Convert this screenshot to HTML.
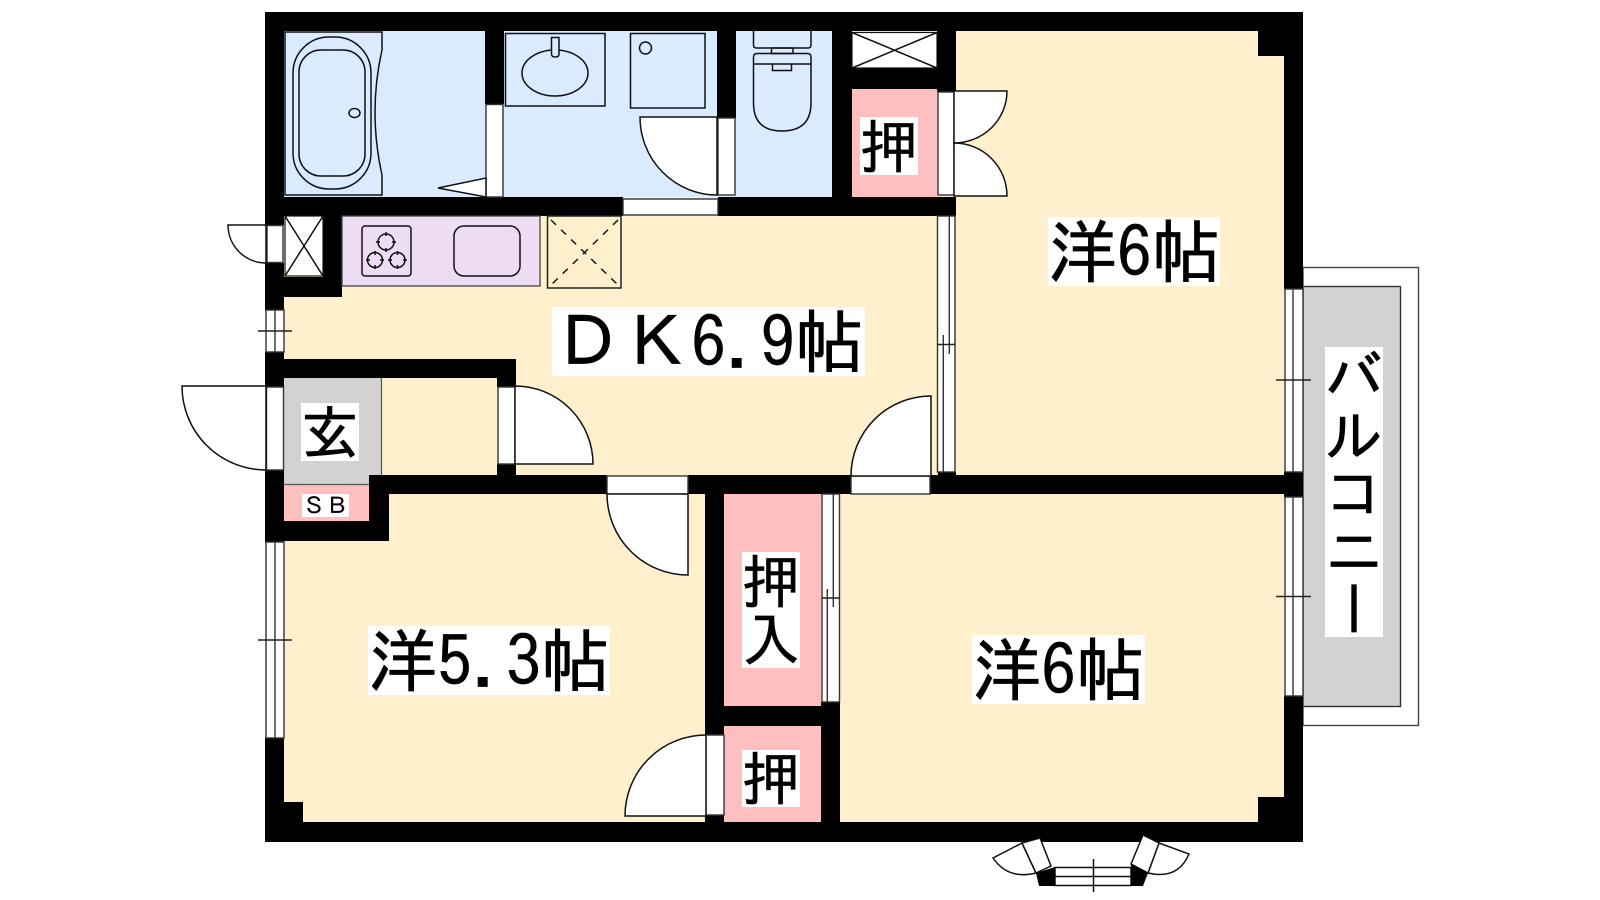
<!DOCTYPE html>
<html lang="ja">
<head>
<meta charset="utf-8">
<title>間取り図</title>
<style>
html,body{margin:0;padding:0;background:#fff;width:1600px;height:900px;overflow:hidden}
#p{position:relative;width:1600px;height:900px}
svg{position:absolute;left:0;top:0}
.t{position:absolute;background:#fff;color:#000;font-family:"IPAGothic","Liberation Sans","Noto Sans CJK JP",sans-serif;text-align:center;white-space:nowrap;overflow:hidden;-webkit-text-stroke:.7px #000}
</style>
</head>
<body>
<div id="p">
<svg width="1600" height="900" viewBox="0 0 1600 900" xmlns="http://www.w3.org/2000/svg">
<!-- floors -->
<rect x="284" y="31" width="1000" height="791" fill="#fef0cd"/>
<rect x="284" y="31" width="548" height="166" fill="#daebff"/>
<rect x="852" y="89" width="85" height="108" fill="#ffbfbf"/>
<rect x="284" y="378" width="98" height="106" fill="#d2d2d2"/>
<rect x="284" y="485" width="85" height="36" fill="#ffbfbf"/>
<rect x="724" y="494" width="97" height="212" fill="#ffbfbf"/>
<rect x="724" y="726" width="97" height="96" fill="#ffbfbf"/>
<line x1="381.5" y1="378" x2="381.5" y2="476" stroke="#555" stroke-width="1.2"/>
<line x1="284" y1="484.5" x2="370" y2="484.5" stroke="#555" stroke-width="1.2"/>

<!-- balcony -->
<rect x="1303" y="267.5" width="115.5" height="458" fill="#fff" stroke="#444" stroke-width="1.4"/>
<rect x="1303" y="286.5" width="97.5" height="420" fill="#d2d2d2" stroke="#333" stroke-width="1.4"/>

<!-- walls -->
<g fill="#000">
<rect x="265" y="12" width="1038" height="19"/>
<rect x="265" y="822" width="1038" height="20"/>
<rect x="265" y="12" width="19" height="213"/>
<rect x="265" y="263" width="19" height="47"/>
<rect x="265" y="352" width="19" height="35"/>
<rect x="265" y="470" width="19" height="72"/>
<rect x="265" y="738" width="19" height="104"/>
<rect x="284" y="802" width="19" height="20"/>
<rect x="1284" y="12" width="19" height="277"/>
<rect x="1258" y="31" width="26" height="25"/>
<rect x="1284" y="472" width="19" height="25"/>
<rect x="1284" y="696" width="19" height="146"/>
<rect x="1258" y="797" width="26" height="25"/>
<rect x="485" y="31" width="19" height="73"/>
<rect x="717" y="31" width="19" height="87"/>
<rect x="832" y="31" width="20" height="166"/>
<rect x="852" y="68" width="85" height="21"/>
<rect x="937" y="31" width="19" height="61"/>
<rect x="265" y="197" width="358" height="19"/>
<rect x="718" y="197" width="238" height="19"/>
<rect x="323" y="216" width="19" height="81"/>
<rect x="265" y="277" width="77" height="20"/>
<rect x="284" y="359" width="232" height="19"/>
<rect x="497" y="378" width="19" height="9"/>
<rect x="497" y="464" width="19" height="11"/>
<rect x="369" y="475" width="238" height="19"/>
<rect x="369" y="475" width="20" height="66"/>
<rect x="265" y="521" width="124" height="20"/>
<rect x="688" y="475" width="163" height="19"/>
<rect x="930" y="475" width="354" height="19"/>
<rect x="938" y="472" width="18" height="4"/>
<rect x="705" y="494" width="19" height="241"/>
<rect x="705" y="815" width="19" height="7"/>
<rect x="705" y="706" width="135" height="20"/>
<rect x="821" y="702" width="19" height="120"/>
</g>

<!-- windows and door pockets -->
<g fill="#fff" stroke="#333" stroke-width="1.4">
<rect x="486" y="104.500" width="17" height="92.500"/>
<rect x="718" y="118" width="17" height="77"/>
<rect x="623" y="199" width="95" height="16"/>
<rect x="938" y="92" width="16" height="103"/>
<rect x="267" y="225.500" width="16" height="37"/>
<rect x="266.500" y="387" width="17" height="83"/>
<rect x="498" y="387" width="17" height="77"/>
<rect x="607" y="476" width="81" height="18"/>
<rect x="851" y="476" width="79" height="18"/>
<rect x="706" y="735" width="18" height="80"/>
<!-- windows -->
<rect x="266" y="310" width="18" height="42"/>
<line x1="275" y1="310" x2="275" y2="352"/>
<rect x="266" y="542" width="18" height="196"/>
<line x1="275" y1="542" x2="275" y2="738"/>
<rect x="937.500" y="216" width="17.500" height="256"/>
<line x1="949.300" y1="216" x2="949.300" y2="354"/>
<line x1="943.300" y1="335" x2="943.300" y2="472"/>
<rect x="822" y="494" width="17.500" height="208"/>
<line x1="833.300" y1="494" x2="833.300" y2="607"/>
<line x1="827.300" y1="589" x2="827.300" y2="702"/>
<rect x="1285" y="289" width="18" height="183"/>
<line x1="1293" y1="289" x2="1293" y2="472"/>
<rect x="1285" y="497" width="18" height="199"/>
<line x1="1293" y1="497" x2="1293" y2="696"/>
</g>
<g stroke="#222" stroke-width="1.4" fill="none">
<line x1="258" y1="331" x2="292" y2="331"/>
<line x1="258" y1="640" x2="292" y2="640"/>
<line x1="1276" y1="380" x2="1311" y2="380"/>
<line x1="1276" y1="596.500" x2="1311" y2="596.500"/>
<line x1="937.500" y1="344.500" x2="955" y2="344.500"/>
<line x1="822" y1="598" x2="839.500" y2="598"/>
</g>

<!-- door leaves -->
<g fill="#fff" stroke="#111" stroke-width="1.5">
<path d="M717 117 H640 A77 78 0 0 0 717 195 Z"/>
<path d="M954 91 H1007 A53 52 0 0 1 954 143 Z"/>
<path d="M954 196 H1007 A53 53 0 0 0 954 143 Z"/>
<path d="M266 225 H228 A38 38 0 0 0 266 263 Z"/>
<path d="M266 386 H182 A84 84 0 0 0 266 470 Z"/>
<path d="M515 386 A78 78 0 0 1 593 464 H515 Z"/>
<path d="M688 494 H607 A81 81 0 0 0 688 575 Z"/>
<path d="M931 476 H851 A80 80 0 0 1 931 396 Z"/>
<path d="M706 816 H625 A81 81 0 0 1 706 735 Z"/>
<path d="M486 197 V178 L438 188 Z"/>
</g>

<!-- bathtub -->
<g fill="none" stroke="#111" stroke-width="1.5">
<path d="M285 32 H382 V50 Q368 112 382 175 V195 H285 Z" fill="#daebff"/>
<rect x="293" y="37" width="78" height="152" rx="36" ry="36"/>
<rect x="299" y="50" width="66" height="126" rx="22" ry="22"/>
<ellipse cx="354.500" cy="113" rx="5.500" ry="4.500"/>
<!-- wash basin -->
<rect x="505.500" y="33.500" width="99.500" height="72.500"/>
<rect x="522" y="50" width="66" height="46" rx="33" ry="23"/>
<path d="M551.500 37.500 H559 V54 Q559 57 555.500 57 Q551.500 57 551.500 54 Z" fill="#daebff"/>
<!-- washer -->
<rect x="630.500" y="33.500" width="74.500" height="74.500"/>
<circle cx="645.500" cy="48" r="6"/>
<!-- toilet -->
<path d="M753.500 31 V45 Q753.500 48 756.500 48 H808 Q811 48 811 45 V31"/>
<rect x="771.500" y="48" width="21.500" height="5.500"/>
<path d="M753.500 57 Q753.500 53.500 757 53.500 H807.500 Q811 53.500 811 57 V103 Q811 131 782 131 Q753.500 131 753.500 103 Z"/>
<line x1="753.500" y1="64" x2="811" y2="64"/>
<path d="M772.500 64 V70.500 H791.500 V64"/>
</g>

<!-- white closets with X -->
<g fill="#fff" stroke="#111" stroke-width="1.2">
<rect x="285" y="216" width="38" height="60"/>
<rect x="852" y="32.500" width="85" height="35.500"/>
</g>
<g stroke="#111" stroke-width="1.5">
<line x1="285" y1="216" x2="323" y2="276"/>
<line x1="323" y1="216" x2="285" y2="276"/>
<line x1="852" y1="32.500" x2="937" y2="68"/>
<line x1="937" y1="32.500" x2="852" y2="68"/>
</g>

<!-- kitchen -->
<rect x="342" y="216" width="198" height="70" fill="#eedcf5" stroke="#444" stroke-width="1.3"/>
<g fill="none" stroke="#111" stroke-width="1.5">
<rect x="362" y="226" width="49" height="50" rx="3"/>
<circle cx="386" cy="242" r="8"/>
<circle cx="375" cy="260" r="7.500"/>
<circle cx="397.500" cy="260" r="7.500"/>
<path d="M386 232 V236 M386 248 V252 M376 242 H380 M392 242 H396 M375 251 V255 M375 265 V269 M366 260 H370 M380 260 H384 M397.500 251 V255 M397.500 265 V269 M388 260 H392 M403 260 H407"/>
<rect x="454" y="226" width="66" height="50" rx="10"/>
</g>
<!-- fridge -->
<rect x="547.500" y="216" width="73.500" height="72" fill="#fef0cd" stroke="#222" stroke-width="1.5"/>
<g stroke="#111" stroke-width="1.5" stroke-dasharray="7 7">
<line x1="551" y1="220" x2="618" y2="285"/>
<line x1="618" y1="220" x2="551" y2="285"/>
</g>

<!-- bay window -->
<g fill="#fff" stroke="#111" stroke-width="1.5">
<path d="M1022 843 L993 858 Q1008 880 1036 873 Z"/>
<path d="M1159 843 L1189 854 Q1178 880 1148 873 Z"/>
<path d="M1022 843 L1040 838 L1051 866 L1036 873 Z"/>
<path d="M1143 835 L1159 843 L1148 873 L1131 864 Z"/>
<rect x="1055" y="867.500" width="76" height="18"/>
<line x1="1055" y1="876.500" x2="1131" y2="876.500"/>
<line x1="1093.500" y1="859" x2="1093.500" y2="892"/>
</g>
<g fill="#000">
<path d="M1036 873 L1055 867 V886 H1039 Z"/>
<path d="M1131 864 L1148 873 L1143 886 H1131 Z"/>
</g>
</svg>

<div class="t" style="left:1048px;top:217px;width:172px;height:69px;line-height:69px;font-size:69px">洋6帖</div>
<div class="t" style="left:552px;top:307px;width:313px;height:69px;line-height:69px;font-size:69px">ＤＫ6.9帖</div>
<div class="t" style="left:368px;top:626px;width:242px;height:69px;line-height:69px;font-size:69px">洋5.3帖</div>
<div class="t" style="left:972px;top:635px;width:173px;height:69px;line-height:69px;font-size:69px">洋6帖</div>
<div class="t" style="left:860px;top:117px;width:58px;height:58px;line-height:58px;font-size:58px">押</div>
<div class="t" style="left:301px;top:403px;width:58px;height:58px;line-height:58px;font-size:58px">玄</div>
<div class="t" style="left:302px;top:494px;width:47px;height:23px;line-height:23px;font-size:23px;-webkit-text-stroke:.2px #000">ＳＢ</div>
<div class="t" style="left:742px;top:552px;width:58px;height:116px;line-height:58px;font-size:58px">押<br>入</div>
<div class="t" style="left:742px;top:750px;width:58px;height:57px;line-height:57px;font-size:58px">押</div>
<div class="t" style="left:1325px;top:347px;width:58px;height:290px;line-height:58px;font-size:58px;writing-mode:vertical-rl">バルコニー</div>
</div>
</body>
</html>
